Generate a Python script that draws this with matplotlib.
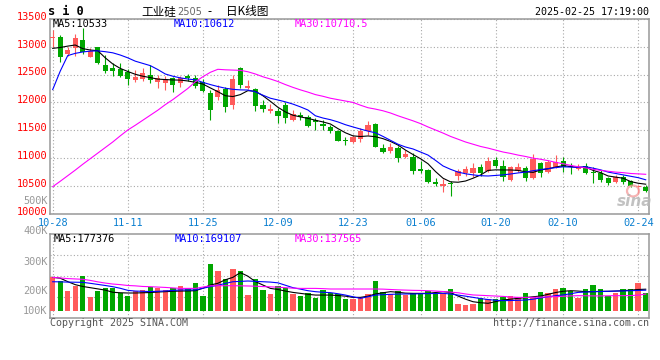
import matplotlib
matplotlib.use('Agg')
import matplotlib.pyplot as plt
from matplotlib.patches import Ellipse

# 工业硅2505 日K
dates = ['10-28', '11-11', '11-25', '12-09', '12-23', '01-06', '01-20', '02-10', '02-24']
date_idx = [0, 10, 20, 30, 40, 49, 59, 68, 78]

open_ = [13150, 13179, 12868, 12970, 13120, 12821, 12988, 12671, 12611, 12593,
         12552, 12402, 12414, 12492, 12366, 12342, 12432, 12354, 12474, 12432,
         12372, 12175, 12103, 12235, 11954, 12611, 12252, 12235, 11954, 11852,
         11852, 11948, 11684, 11774, 11732, 11684, 11613, 11553, 11493, 11326,
         11284, 11344, 11493, 11613, 11188, 11134, 11188, 11015, 11027, 10799,
         10787, 10578, 10500, 10548, 10686, 10727, 10739, 10847, 10775, 10967,
         10859, 10608, 10775, 10817, 10650, 10907, 10757, 10847, 10949, 10865,
         10811, 10859, 10745, 10739, 10638, 10578, 10668, 10590, 10476, 10488]
close = [13179, 12809, 12940, 13150, 12910, 12928, 12713, 12569, 12569, 12480,
         12414, 12462, 12522, 12402, 12432, 12414, 12312, 12432, 12444, 12294,
         12211, 11864, 12223, 11924, 12420, 12312, 12294, 11942, 11882, 11888,
         11762, 11714, 11792, 11744, 11577, 11643, 11577, 11493, 11314, 11302,
         11386, 11487, 11595, 11194, 11116, 11206, 10997, 11069, 10775, 10775,
         10578, 10530, 10530, 10530, 10775, 10805, 10817, 10727, 10955, 10859,
         10668, 10847, 10847, 10650, 10979, 10739, 10937, 10937, 10847, 10835,
         10847, 10739, 10727, 10608, 10560, 10668, 10566, 10506, 10500, 10417]
high = [13299, 13215, 13000, 13227, 13335, 12970, 13000, 12850, 12701, 12701,
        12593, 12581, 12611, 12671, 12492, 12474, 12462, 12474, 12510, 12492,
        12414, 12223, 12312, 12282, 12492, 12641, 12402, 12252, 12043, 11972,
        11894, 12013, 11864, 11834, 11774, 11714, 11684, 11595, 11505, 11386,
        11415, 11535, 11666, 11637, 11254, 11278, 11218, 11146, 11086, 10949,
        10799, 10638, 10620, 10596, 10799, 10859, 10919, 10889, 11027, 11027,
        10967, 10859, 10907, 10859, 11075, 10937, 10967, 11057, 11015, 10919,
        10895, 10907, 10847, 10787, 10668, 10698, 10698, 10608, 10518, 10518]
low = [13000, 12731, 12833, 12833, 12868, 12809, 12689, 12534, 12474, 12450,
       12312, 12372, 12390, 12354, 12252, 12223, 12193, 12282, 12390, 12252,
       12193, 11684, 12043, 11834, 11876, 12252, 12235, 11852, 11834, 11804,
       11637, 11625, 11672, 11684, 11565, 11505, 11505, 11445, 11314, 11236,
       11266, 11296, 11415, 11194, 11098, 11098, 10937, 10997, 10716, 10739,
       10560, 10506, 10399, 10327, 10608, 10686, 10668, 10680, 10757, 10817,
       10596, 10596, 10757, 10596, 10620, 10656, 10739, 10817, 10757, 10716,
       10787, 10716, 10560, 10578, 10518, 10560, 10536, 10488, 10369, 10399]

ma5 = [12970, 12985, 13010, 13030, 12965, 12940, 12928, 12800, 12690, 12610,
       12555, 12505, 12470, 12445, 12418, 12410, 12403, 12400, 12385, 12360,
       12330, 12260, 12193, 12120, 12105, 12140, 12211, 12200, 12120, 12020,
       11913, 11830, 11770, 11740, 11714, 11680, 11650, 11613, 11530, 11455,
       11400, 11388, 11398, 11385, 11350, 11300, 11235, 11145, 11065, 10990,
       10900, 10760, 10640, 10575, 10568, 10590, 10640, 10698, 10780, 10790,
       10788, 10788, 10780, 10755, 10745, 10788, 10810, 10840, 10865, 10850,
       10835, 10840, 10780, 10740, 10680, 10660, 10640, 10580, 10550, 10533]
ma10 = [12230, 12560, 12840, 12880, 12905, 12920, 12925, 12910, 12890, 12850,
        12800, 12740, 12700, 12660, 12590, 12510, 12470, 12440, 12420, 12405,
        12360, 12320, 12285, 12255, 12235, 12225, 12222, 12190, 12130, 12075,
        12044, 12010, 11970, 11920, 11864, 11760, 11720, 11690, 11650, 11600,
        11560, 11522, 11485, 11455, 11390, 11320, 11250, 11200, 11165, 11110,
        11055, 10960, 10860, 10800, 10750, 10720, 10700, 10685, 10680, 10690,
        10700, 10716, 10735, 10750, 10775, 10795, 10812, 10830, 10845, 10840,
        10835, 10847, 10820, 10790, 10750, 10725, 10700, 10675, 10650, 10612]
ma30 = [10488, 10585, 10685, 10785, 10890, 10990, 11090, 11190, 11290, 11400,
        11505, 11590, 11680, 11770, 11860, 11960, 12050, 12150, 12250, 12370,
        12460, 12540, 12594, 12585, 12580, 12575, 12550, 12510, 12460, 12420,
        12375, 12320, 12270, 12225, 12185, 12140, 12110, 12075, 12050, 12025,
        12000, 11950, 11905, 11880, 11850, 11810, 11760, 11715, 11670, 11620,
        11560, 11505, 11450, 11390, 11340, 11290, 11250, 11210, 11180, 11145,
        11110, 11085, 11055, 11030, 11000, 10980, 10955, 10925, 10900, 10870,
        10845, 10825, 10800, 10780, 10765, 10750, 10740, 10725, 10718, 10710.5]

# 成交量 (K)
vol = [275, 245, 165, 206, 289, 116, 165, 184, 184, 143,
       124, 165, 171, 198, 190, 171, 190, 206, 184, 226,
       124, 385, 330, 259, 344, 327, 129, 259, 171, 138,
       206, 190, 138, 124, 149, 107, 171, 149, 138, 96,
       96, 110, 138, 245, 157, 138, 165, 129, 149, 149,
       165, 149, 149, 179, 55, 47, 55, 102, 96, 96,
       116, 121, 116, 149, 116, 157, 149, 179, 190, 162,
       107, 179, 212, 179, 121, 149, 179, 179, 231, 149]
vol_ma5 = [275, 268, 240, 215, 200, 190, 180, 170, 152, 148,
           146, 146, 148, 150, 154, 157, 160, 162, 163, 165,
           185, 212, 226, 255, 275, 314, 285, 240, 212, 184,
           175, 162, 151, 143, 135, 129, 129, 129, 125, 120,
           110, 110, 120, 138, 148, 157, 152, 145, 143, 143,
           143, 150, 157, 150, 121, 95, 74, 66, 61, 75,
           88, 95, 102, 108, 115, 121, 135, 150, 160, 165,
           162, 157, 157, 160, 160, 162, 165, 170, 175, 177.376]
vol_ma10 = [239, 238, 236, 235, 234, 226, 217, 208, 198, 185,
            168, 162, 160, 158, 160, 163, 167, 171, 171, 171,
            185, 198, 210, 225, 239, 242, 245, 242, 239, 236,
            230, 210, 190, 178, 165, 157, 152, 149, 140, 129,
            115, 102, 115, 129, 132, 135, 137, 138, 138, 140,
            141, 142, 143, 138, 129, 120, 110, 100, 92, 86,
            83, 84, 86, 88, 95, 105, 115, 124, 130, 140,
            151, 154, 157, 158, 160, 162, 163, 165, 167, 169.107]
vol_ma30 = [275, 270, 265, 262, 259, 250, 238, 228, 220, 215,
            208, 205, 200, 198, 195, 192, 188, 184, 184, 184,
            195, 205, 206, 206, 206, 205, 204, 202, 199, 197,
            194, 190, 186, 184, 184, 184, 182, 179, 179, 179,
            179, 179, 179, 179, 178, 175, 172, 170, 168, 167,
            165, 162, 158, 153, 148, 138, 130, 127, 124, 121,
            118, 113, 110, 110, 110, 112, 114, 116, 119, 122,
            124, 123, 122, 122, 123, 124, 124, 125, 128, 137.565]

price_ticks = [10000, 10500, 11000, 11500, 12000, 12500, 13000, 13500]
vol_labels = ['400K', '300K', '200K', '100K']

RED = '#FF5B5B'
GREEN = '#00A600'
MONO = 'DejaVu Sans Mono'
CJK = 'Noto Sans CJK SC'
W, H = 660, 360


def fx(x):
    return x / W


def fy(y):
    return 1 - y / H


fig = plt.figure(figsize=(6.6, 3.6), dpi=100)
fig.patch.set_facecolor('white')

# 主图
ax = fig.add_axes([fx(50), fy(213.9), (649 - 50) / W, (213.9 - 18.8) / H])
# 成交量
axv = fig.add_axes([fx(50), fy(318.3), (649 - 50) / W, 84 / H])

n = len(close)
x = list(range(n))
cols = [RED if c >= o else GREEN for o, c in zip(open_, close)]
bottoms = [min(o, c) for o, c in zip(open_, close)]
heights = [max(abs(c - o), 18) for o, c in zip(open_, close)]

ax.vlines(x, low, high, colors=cols, linewidth=0.8, zorder=3)
ax.bar(x, heights, bottom=bottoms, width=0.7, color=cols, linewidth=0, zorder=4)
ax.plot(x, ma5, color='black', lw=0.8, zorder=5)
ax.plot(x, ma10, color='#0000FF', lw=0.8, zorder=5)
ax.plot(x, ma30, color='#FF00FF', lw=0.8, zorder=5)

ax.set_xlim(-0.36, 79.44)
ax.set_ylim(10000, 13500)
ax.set_yticks(price_ticks)
ax.set_yticklabels([])
ax.set_xticks(date_idx)
ax.set_xticklabels(dates, family=MONO, fontsize=7.4, color='#0A7FD0')
ax.tick_params(axis='x', length=0, pad=2.6)
ax.tick_params(axis='y', length=0)
ax.grid(True, linestyle=(0, (1, 2)), color='#A8A8A8', linewidth=0.8)

for v in price_ticks:
    ax.text(-0.004, v + 38, str(v), transform=ax.get_yaxis_transform(),
            ha='right', va='center', family=MONO, fontsize=7.4, color='#FF0000')

axv.bar(x, vol, width=0.72, color=cols, linewidth=0, zorder=3)
axv.plot(x, vol_ma5, color='black', lw=0.8, zorder=5)
axv.plot(x, vol_ma10, color='#0000FF', lw=0.8, zorder=5)
axv.plot(x, vol_ma30, color='#FF00FF', lw=0.8, zorder=5)
vlo, vhi = -62.7, 630.3
axv.set_xlim(-0.36, 79.44)
axv.set_ylim(vlo, vhi)
axv.set_xticks(date_idx)
axv.set_xticklabels([])
axv.set_yticks([vlo + f * (vhi - vlo) for f in (0.25, 0.5, 0.75)])
axv.set_yticklabels([])
axv.tick_params(length=0)
axv.grid(True, linestyle=(0, (1, 2)), color='#A8A8A8', linewidth=0.8)

for a in (ax, axv):
    for s in a.spines.values():
        s.set_color('#999999')
        s.set_linewidth(1.1)
    a.set_axisbelow(True)

# 左侧的量标签
for lab, yy in zip(vol_labels, [230.7, 261.7, 290.7, 310.7]):
    fig.text(fx(47.5), fy(yy), lab, ha='right', va='center', family=MONO,
             fontsize=7.4, color='#999999')
fig.text(fx(47.5), fy(200.5), '500K', ha='right', va='center', family=MONO,
         fontsize=7.4, color='#999999')

# 均线数值
fig.text(fx(53), fy(24), f'MA5:{ma5[-1]:g}', family=MONO, fontsize=7.4,
         color='black', va='center')
fig.text(fx(174), fy(24), f'MA10:{ma10[-1]:g}', family=MONO, fontsize=7.4,
         color='#0000FF', va='center')
fig.text(fx(295), fy(24), f'MA30:{ma30[-1]:g}', family=MONO, fontsize=7.4,
         color='#FF00FF', va='center')
fig.text(fx(54), fy(238.5), f'MA5:{vol_ma5[-1] * 1000:.0f}', family=MONO,
         fontsize=7.4, color='black', va='center')
fig.text(fx(175), fy(238.5), f'MA10:{vol_ma10[-1] * 1000:.0f}', family=MONO,
         fontsize=7.4, color='#0000FF', va='center')
fig.text(fx(295), fy(238.5), f'MA30:{vol_ma30[-1] * 1000:.0f}', family=MONO,
         fontsize=7.4, color='#FF00FF', va='center')

# 标题
fig.text(fx(48), fy(11.5), 's i 0', family=MONO, fontsize=8.6, weight='bold',
         color='black', va='center')
fig.text(fx(141), fy(11.5), '工业硅', family=CJK, fontsize=8.4, color='black',
         va='center')
fig.text(fx(177.5), fy(12), '2505', family='DejaVu Sans', fontsize=7,
         color='#666666', va='center')
fig.text(fx(207), fy(11.5), '-', family=CJK, fontsize=8.4, color='black',
         va='center')
fig.text(fx(226), fy(11.5), '日K线图', family=CJK, fontsize=8.4, color='black',
         va='center')
fig.text(fx(649), fy(12), '2025-02-25 17:19:00', family=MONO, fontsize=7.2,
         color='black', ha='right', va='center')

# 底部
fig.text(fx(50), fy(323), 'Copyright 2025 SINA.COM', family=MONO, fontsize=7.2,
         color='#555555', va='center')
fig.text(fx(649), fy(323), 'http://finance.sina.com.cn', family=MONO,
         fontsize=7.2, color='#555555', ha='right', va='center')

# sina 水印
fig.patches.append(Ellipse((fx(633), fy(191)), 12 / W, 11 / H,
                           transform=fig.transFigure, fill=False,
                           edgecolor='#F4A0A0', lw=1.6, alpha=0.8))
fig.text(fx(635), fy(201), 'sina', ha='center', va='center', fontsize=11,
         style='italic', weight='bold', color='#B8B8B8', alpha=0.85)

fig.savefig('out.png', dpi=100)
